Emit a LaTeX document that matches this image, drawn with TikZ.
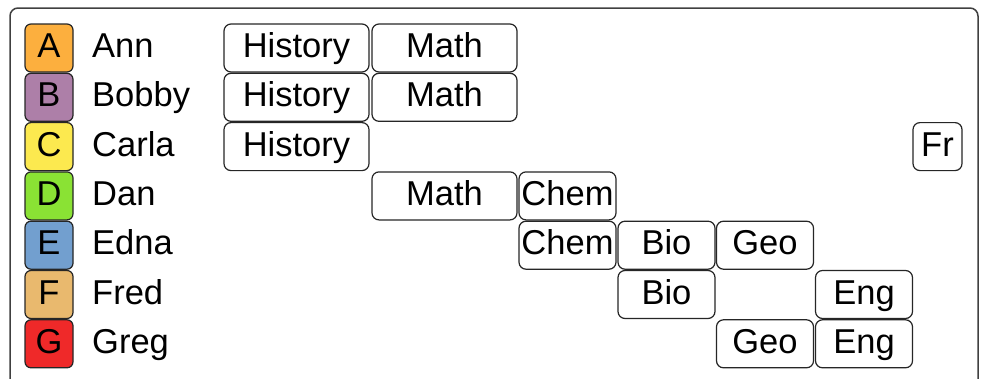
\documentclass[tikz,border=0pt]{standalone}
\usepackage{fontspec}
\setmainfont{Liberation Sans}
\usetikzlibrary{positioning}

\definecolor{tangoorange}{HTML}{FCAF3E}
\definecolor{tangoplum}{HTML}{AD7FA8}
\definecolor{tangobutter}{HTML}{FCE94F}
\definecolor{tangogreen}{HTML}{8AE234}
\definecolor{tangoblue}{HTML}{729FCF}
\definecolor{tangobrown}{HTML}{E9B96E}
\definecolor{tangored}{HTML}{EF2929}

\begin{document}
\begin{tikzpicture}[x=1pt,y=-1pt,node distance=1.3pt,
    every node/.style={font=\fontsize{34.5}{40}\selectfont,text height=25pt,text depth=6pt},
    badge/.style={draw=black!85,line width=1.2pt,rounded corners=6pt,minimum width=48pt,minimum height=48pt,inner sep=0pt,outer sep=0pt},
    pupil/.style={inner sep=0pt,anchor=west},
    course/.style={draw=black!85,fill=white,line width=1.2pt,rounded corners=7pt,minimum height=48pt,inner xsep=2pt,inner ysep=0pt},
    wide/.style={course,minimum width=145pt},
    mid/.style={course,minimum width=97pt},
    narrow/.style={course,minimum width=49pt}]
      \useasboundingbox (0,0) rectangle (982,378);
      \draw[black!75,line width=1.5pt,rounded corners=8pt] (10,8) rectangle (978,400);
      \begin{scope}
        \node (A)[badge,fill=tangoorange] at (49,48) {A};
        \node (B)[badge,fill=tangoplum] [below=of A] {B};
        \node (C)[badge,fill=tangobutter] [below=of B] {C};
        \node (D)[badge,fill=tangogreen] [below=of C] {D};
        \node (E)[badge,fill=tangoblue] [below=of D] {E};
        \node (F)[badge,fill=tangobrown] [below=of E] {F};
        \node (G)[badge,fill=tangored] [below=of F] {G};
      \end{scope}
      \begin{scope}[node distance=19pt]
        \node (ann)[pupil] [right=of A] {Ann};
        \node (bobby)[pupil] [right=of B] {Bobby};
        \node (carla)[pupil] [right=of C] {Carla};
        \node (dan)[pupil] [right=of D] {Dan};
        \node (edna)[pupil] [right=of E] {Edna};
        \node (fred)[pupil] [right=of F] {Fred};
        \node (greg)[pupil] [right=of G] {Greg};
      \end{scope}
      \begin{scope}
        \node (annhist)[wide] at (296.5,0 |- A) {History};
        \node (annmath)[wide] at (444.5,0 |- A) {Math};
        \node (bobbyhist)[wide] at (296.5,0 |- B) {History};
        \node (bobbymath)[wide] at (444.5,0 |- B) {Math};
        \node (carlahist)[wide] at (296.5,0 |- C) {History};
        \node (carlafr)[narrow] at (937.5,0 |- C) {Fr};
        \node (danmath)[wide] at (444.5,0 |- D) {Math};
        \node (danchem)[mid] at (567.5,0 |- D) {Chem};
        \node (ednachem)[mid] at (567.5,0 |- E) {Chem};
        \node (ednabio)[mid] at (666.5,0 |- E) {Bio};
        \node (ednageo)[mid] at (765,0 |- E) {Geo};
        \node (fredbio)[mid] at (666.5,0 |- F) {Bio};
        \node (fredeng)[mid] at (864,0 |- F) {Eng};
        \node (greggeo)[mid] at (765,0 |- G) {Geo};
        \node (gregeng)[mid] at (864,0 |- G) {Eng};
      \end{scope}
    \end{tikzpicture}
\end{document}
